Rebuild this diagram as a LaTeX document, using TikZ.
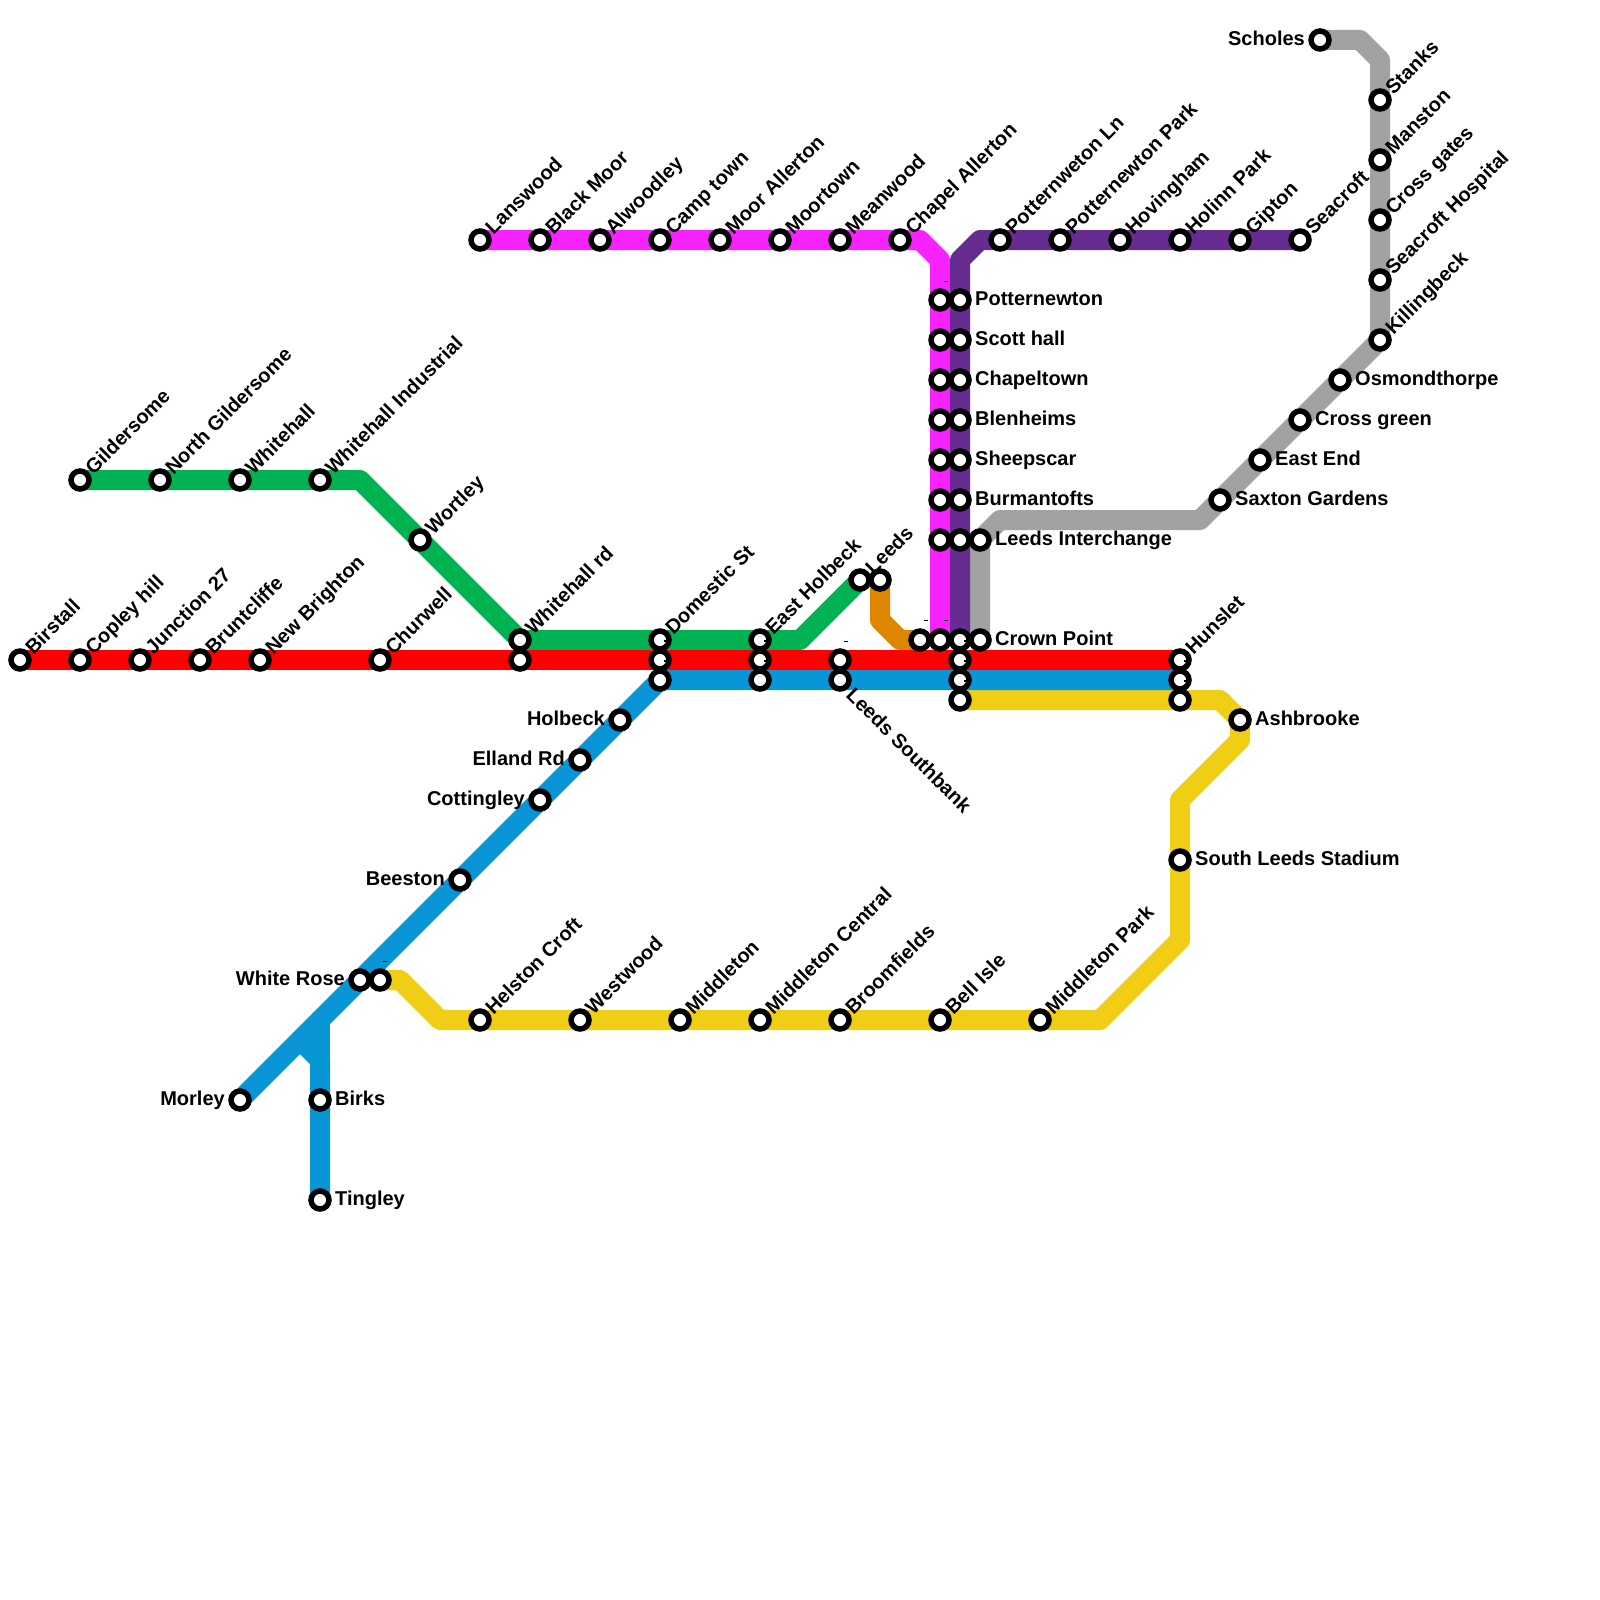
\documentclass[tikz,border=0pt]{standalone}
\usepackage{fontspec}
\setmainfont{Liberation Sans}
\pgfdeclarelayer{lines}
\pgfsetlayers{lines,main}
\definecolor{cred}{HTML}{FF0000}
\definecolor{cgreen}{HTML}{00B251}
\definecolor{cblue}{HTML}{0896D7}
\definecolor{cmag}{HTML}{F723FF}
\definecolor{cpurple}{HTML}{662C90}
\definecolor{cgrey}{HTML}{A2A2A2}
\definecolor{corange}{HTML}{DF8600}
\definecolor{cyellow}{HTML}{F0CE15}
\tikzset{
  x=1pt,y=-1pt,
  stn/.style={circle,draw=black,fill=white,line width=5.5pt,minimum size=18pt,inner sep=0pt},
  lbl/.style={font=\fontsize{20}{24}\selectfont\bfseries,text=black,inner sep=0pt,text height=14.3pt,text depth=0pt},
  lr/.style={label={[lbl,anchor=west,xshift=3.25pt,yshift=1.5pt]0:#1}},
  ll/.style={label={[lbl,anchor=east,xshift=-3.25pt,yshift=1.5pt]180:#1}},
  lu/.style={label={[lbl,anchor=west,rotate=45,xshift=0.82pt,yshift=0.82pt]45:#1}},
  ld/.style={label={[lbl,anchor=west,rotate=-45,xshift=3.3pt,yshift=-0.82pt]-45:#1}},
  metro/.style={line width=20pt,line join=round,line cap=round},
  speck/.style={fill=black,draw=none,minimum width=4pt,minimum height=1pt,inner sep=0pt,outer sep=0pt,rectangle},
  nick/.style={fill=black,draw=none,minimum width=2.5pt,minimum height=2pt,inner sep=0pt,outer sep=0pt,rectangle},
}
\begin{document}
\begin{tikzpicture}
\begin{pgfonlayer}{lines}
\fill[white] (0,0) rectangle (1600,1600);
\end{pgfonlayer}
\useasboundingbox (0,0) rectangle (1600,1600);
% red
\node[stn,lu=Birstall] (birstall) at (20,660) {};
\node[stn,lu=Copley hill] (copley) at (80,660) {};
\node[stn,lu=Junction 27] (junction) at (140,660) {};
\node[stn,lu=Bruntcliffe] (bruntcliffe) at (200,660) {};
\node[stn,lu=New Brighton] (newbrighton) at (260,660) {};
\node[stn,lu=Churwell] (churwell) at (380,660) {};
\node[stn] (whitehallrdb) at (520,660) {};
\node[stn] (domesticb) at (660,660) {};
\node[stn] (holbeckb) at (760,660) {};
\node[stn] (southbanka) at (840,660) {};
\node[stn] (crownr) at (960,660) {};
\node[stn,lu=Hunslet] (hunslet) at (1180,660) {};
% green
\node[stn,lu=Gildersome] (gildersome) at (80,480) {};
\node[stn,lu=North Gildersome] (northgild) at (160,480) {};
\node[stn,lu=Whitehall] (whitehall) at (240,480) {};
\node[stn,lu=Whitehall Industrial] (whitehallind) at (320,480) {};
\node[stn,lu=Wortley] (wortley) at (420,540) {};
\node[stn,lu=Whitehall rd] (whitehallrd) at (520,640) {};
\node[stn,lu=Domestic St] (domestic) at (660,640) {};
\node[stn,lu=East Holbeck] (eastholbeck) at (760,640) {};
\node[stn,lu=Leeds] (leedsa) at (860,580) {};
\node[stn] (leedsb) at (880,580) {};
% blue
\node[stn] (domesticc) at (660,680) {};
\node[stn] (holbeckc) at (760,680) {};
\node[stn,ld=Leeds Southbank] (southbank) at (840,680) {};
\node[stn] (crownb) at (960,680) {};
\node[stn] (hunsletb) at (1180,680) {};
\node[stn,ll=Holbeck] (holbeck) at (620,720) {};
\node[stn,ll=Elland Rd] (elland) at (580,760) {};
\node[stn,ll=Cottingley] (cottingley) at (540,800) {};
\node[stn,ll=Beeston] (beeston) at (460,880) {};
\node[stn,ll=White Rose] (whiterose) at (360,980) {};
\node[stn,ll=Morley] (morley) at (240,1100) {};
\node[stn,lr=Birks] (birks) at (320,1100) {};
\node[stn,lr=Tingley] (tingley) at (320,1200) {};
% yellow
\node[stn] (whiteroseb) at (380,980) {};
\node[stn,lu=Helston Croft] (helston) at (480,1020) {};
\node[stn,lu=Westwood] (westwood) at (580,1020) {};
\node[stn,lu=Middleton] (middleton) at (680,1020) {};
\node[stn,lu=Middleton Central] (middletonc) at (760,1020) {};
\node[stn,lu=Broomfields] (broomfields) at (840,1020) {};
\node[stn,lu=Bell Isle] (bellisle) at (940,1020) {};
\node[stn,lu=Middleton Park] (middletonp) at (1040,1020) {};
\node[stn,lr=South Leeds Stadium] (southleeds) at (1180,860) {};
\node[stn,lr=Ashbrooke] (ashbrooke) at (1240,720) {};
\node[stn] (hunsletc) at (1180,700) {};
\node[stn] (crowny) at (960,700) {};
% magenta
\node[stn,lu=Lanswood] (lanswood) at (480,240) {};
\node[stn,lu=Black Moor] (blackmoor) at (540,240) {};
\node[stn,lu=Alwoodley] (alwoodley) at (600,240) {};
\node[stn,lu=Camp town] (camptown) at (660,240) {};
\node[stn,lu=Moor Allerton] (moorallerton) at (720,240) {};
\node[stn,lu=Moortown] (moortown) at (780,240) {};
\node[stn,lu=Meanwood] (meanwood) at (840,240) {};
\node[stn,lu=Chapel Allerton] (chapel) at (900,240) {};
\node[stn] (ma) at (940,300) {};
\node[stn] (mb) at (940,340) {};
\node[stn] (mc) at (940,380) {};
\node[stn] (md) at (940,420) {};
\node[stn] (me) at (940,460) {};
\node[stn] (mf) at (940,500) {};
\node[stn] (mg) at (940,540) {};
\node[stn] (mh) at (940,640) {};
\node[stn] (oa) at (920,640) {};
% purple
\node[stn,lr=Potternewton] (potternewton) at (960,300) {};
\node[stn,lr=Scott hall] (scott) at (960,340) {};
\node[stn,lr=Chapeltown] (chapeltown) at (960,380) {};
\node[stn,lr=Blenheims] (blenheims) at (960,420) {};
\node[stn,lr=Sheepscar] (sheepscar) at (960,460) {};
\node[stn,lr=Burmantofts] (burmantofts) at (960,500) {};
\node[stn] (pg) at (960,540) {};
\node[stn] (ph) at (960,640) {};
\node[stn,lu=Potternweton Ln] (pottln) at (1000,240) {};
\node[stn,lu=Potternewton Park] (pottpark) at (1060,240) {};
\node[stn,lu=Hovingham] (hovingham) at (1120,240) {};
\node[stn,lu=Holinn Park] (holinn) at (1180,240) {};
\node[stn,lu=Gipton] (gipton) at (1240,240) {};
\node[stn,lu=Seacroft] (seacroft) at (1300,240) {};
% grey
\node[stn,lr=Leeds Interchange] (interchange) at (980,540) {};
\node[stn,lr=Crown Point] (crownpoint) at (980,640) {};
\node[stn,lr=Saxton Gardens] (saxton) at (1220,500) {};
\node[stn,lr=East End] (eastend) at (1260,460) {};
\node[stn,lr=Cross green] (crossgreen) at (1300,420) {};
\node[stn,lr=Osmondthorpe] (osmond) at (1340,380) {};
\node[stn,lu=Killingbeck] (killingbeck) at (1380,340) {};
\node[stn,lu=Seacroft Hospital] (seacrofth) at (1380,280) {};
\node[stn,lu=Cross gates] (crossgates) at (1380,220) {};
\node[stn,lu=Manston] (manston) at (1380,160) {};
\node[stn,lu=Stanks] (stanks) at (1380,100) {};
\node[stn,ll=Scholes] (scholes) at (1320,40) {};
% tiny marks
\node[speck] (sp1) at (926,620.5) {};
\node[speck] (sp2) at (946,620.5) {};
\node[speck] (sp3) at (846,641) {};
\node[speck] (sp4) at (945.5,281) {};
\node[speck] (sp5) at (385,961) {};
\node[nick] (ni1) at (665.5,641) {};
\node[nick] (ni2) at (665.5,661) {};
\node[nick] (ni3) at (765.5,641) {};
\node[nick] (ni4) at (765.5,661) {};
\node[nick] (ni5) at (965.5,641) {};
\node[nick] (ni6) at (965.5,661) {};
\node[nick] (ni7) at (965.5,681) {};
\node[nick] (ni8) at (1185.5,661) {};
\node[nick] (ni9) at (1185.5,681) {};
% bends
\coordinate (gb1) at (360,480);
\coordinate (gb2) at (800,640);
\coordinate (bb1) at (300,1040);
\coordinate (bb2) at (320,1060);
\coordinate (bb3) at (320,1020);
\coordinate (yb1) at (400,980);
\coordinate (yb2) at (440,1020);
\coordinate (yb3) at (1100,1020);
\coordinate (yb4) at (1180,940);
\coordinate (yb5) at (1180,800);
\coordinate (yb6) at (1240,740);
\coordinate (yb7) at (1220,700);
\coordinate (mb1) at (920,240);
\coordinate (mb2) at (940,260);
\coordinate (pb1) at (980,240);
\coordinate (pb2) at (960,260);
\coordinate (sb2) at (1000,520);
\coordinate (sb3) at (1200,520);
\coordinate (sb4) at (1380,60);
\coordinate (sb5) at (1360,40);
\coordinate (ob1) at (880,620);
\coordinate (ob2) at (900,640);
\begin{pgfonlayer}{lines}
\draw[metro,cgrey] (crownpoint.center) -- (interchange.center) -- (sb2) -- (sb3) -- (killingbeck.center) -- (sb4) -- (sb5) -- (scholes.center);
\draw[metro,corange] (leedsb.center) -- (ob1) -- (ob2) -- (oa.center);
\draw[metro,cyellow] (whiteroseb.center) -- (yb1) -- (yb2) -- (yb3) -- (yb4) -- (yb5) -- (yb6) -- (ashbrooke.center) -- (yb7) -- (crowny.center);
\draw[metro,cgreen] (gildersome.center) -- (gb1) -- (whitehallrd.center) -- (gb2) -- (leedsa.center);
\draw[metro,cmag] (lanswood.center) -- (mb1) -- (mb2) -- (mh.center);
\draw[metro,cpurple] (seacroft.center) -- (pb1) -- (pb2) -- (ph.center);
\draw[metro,cblue] (morley.center) -- (domesticc.center) -- (hunsletb.center);
\draw[metro,cblue] (bb1) -- (bb2) -- (tingley.center);
\draw[metro,cblue] (bb3) -- (bb2);
\draw[metro,cred] (birstall.center) -- (hunslet.center);
\end{pgfonlayer}
\end{tikzpicture}
\end{document}
